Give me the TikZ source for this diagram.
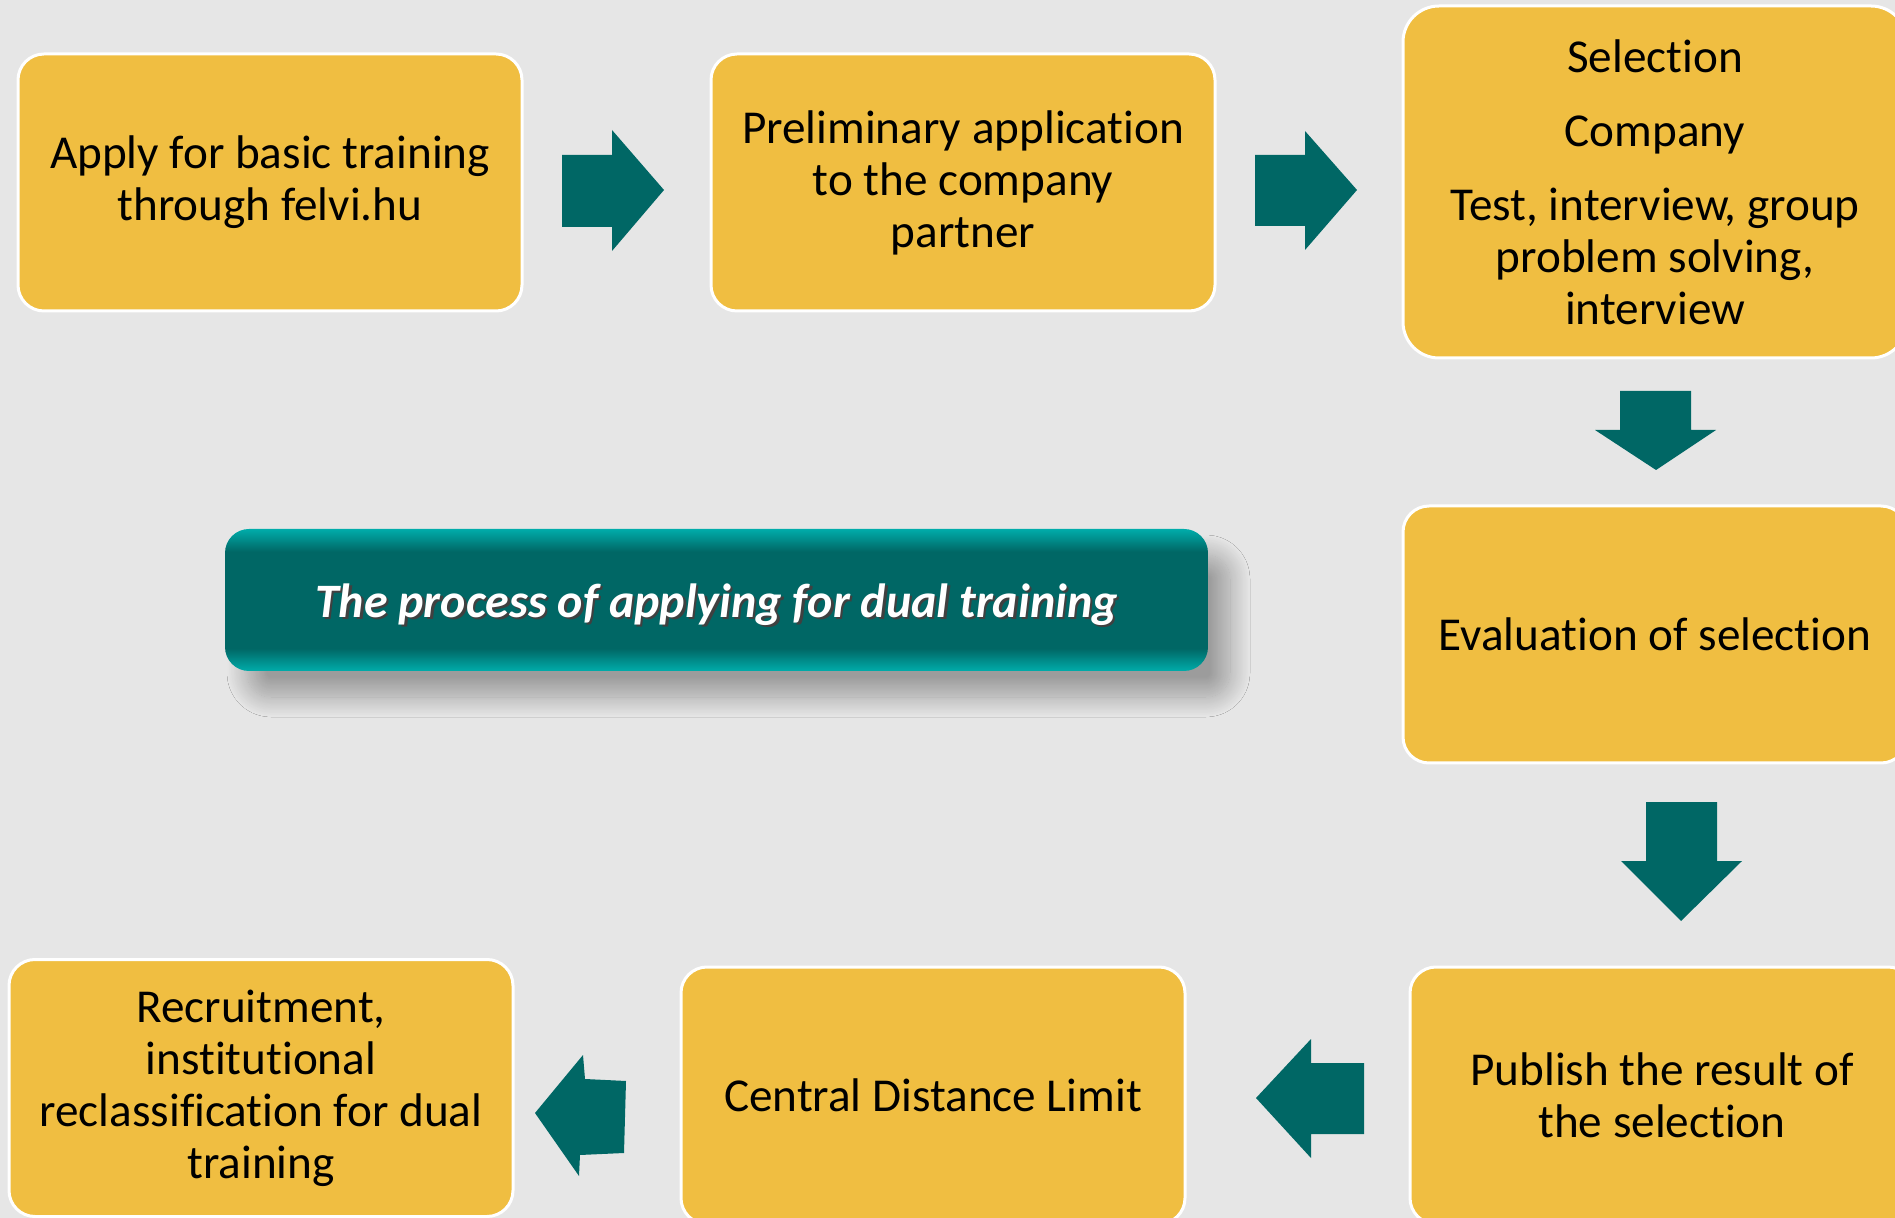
\documentclass[tikz,border=0pt]{standalone}
\usepackage{fontspec}
\setmainfont{Carlito}[Ligatures=NoCommon]
\usetikzlibrary{shadows.blur}

\definecolor{pagegray}{RGB}{230,230,230}
\definecolor{boxyellow}{RGB}{240,190,65}
\definecolor{tealdark}{RGB}{0,103,101}
\definecolor{teallight}{RGB}{0,172,170}

% vertical glow at the top and bottom edges of the title bar
\pgfdeclareverticalshading{tealbar}{100bp}{%
  color(0bp)=(teallight); color(25bp)=(teallight); color(33bp)=(tealdark);
  color(67bp)=(tealdark); color(75bp)=(teallight); color(100bp)=(teallight)}

\tikzset{
  stepbox/.style={rectangle, rounded corners=13pt, fill=boxyellow, draw=white,
    line width=1.5pt, minimum width=252pt, minimum height=128.5pt,
    inner sep=0pt, align=center, font=\fontsize{23.6}{26}\selectfont},
  blockarrow/.style={fill=tealdark, draw=none},
  titlebar/.style={rectangle, rounded corners=12pt, shade, shading=tealbar,
    minimum width=491.5pt, minimum height=71pt, inner sep=0pt,
    blur shadow={shadow xshift=11pt, shadow yshift=-13pt,
      shadow blur radius=10pt, shadow blur steps=25, shadow opacity=32},
    font=\fontsize{24}{28}\selectfont\bfseries\itshape, text=white}
}

\newcommand{\shadowtext}[1]{%
  \rlap{\hspace{1.2pt}\raisebox{-1.2pt}{\textcolor{black!75}{#1}}}#1}

\begin{document}
\begin{tikzpicture}[x=0.5pt, y=-0.5pt]
  \useasboundingbox (0,0) rectangle (1895,1218);
  \clip (0,0) rectangle (1895,1218);
  \fill[pagegray] (0,0) rectangle (1895,1218);

  % process steps
  \node[stepbox] (apply) at (270,182.5) {Apply for basic training\\through felvi.hu};
  \node[stepbox] (prelim) at (963,182.5) {Preliminary application\\to the company\\partner};
  \node[stepbox, rounded corners=18pt, minimum height=176pt] (select) at (1655,182)
    {Selection\\[11pt]Company\\[11pt]Test, interview, group\\problem solving,\\interview};
  \node[stepbox] (eval) at (1655,634.5) {Evaluation of selection};
  \node[stepbox] (publish) at (1662,1095.5) {Publish the result of\\the selection};
  \node[stepbox] (central) at (933,1095.5) {Central Distance Limit};
  \node[stepbox] (recruit) at (261,1088) {Recruitment,\\institutional\\reclassification for dual\\training};

  % title bar
  \node[titlebar] (title) at (716.5,600)
    {\raisebox{-3pt}[\height][\depth]{\shadowtext{The process of applying for dual training}}};

  % block arrows between the steps
  \fill[blockarrow] (562,155) -- (612,155) -- (612,130) -- (664,190)
    -- (612,251) -- (612,227) -- (562,227) -- cycle;
  \fill[blockarrow] (1255,155) -- (1305,155) -- (1305,131) -- (1357,190)
    -- (1305,250) -- (1305,226) -- (1255,226) -- cycle;
  \fill[blockarrow] (1620,391) -- (1691,391) -- (1691,430) -- (1716,430)
    -- (1656,470) -- (1595,430) -- (1620,430) -- cycle;
  \fill[blockarrow] (1646,802) -- (1717,802) -- (1717,861) -- (1742,861)
    -- (1681,921) -- (1621,861) -- (1646,861) -- cycle;
  \fill[blockarrow] (1364,1063) -- (1364,1134) -- (1311,1134) -- (1311,1158)
    -- (1256,1098) -- (1311,1039) -- (1311,1063) -- cycle;
  \fill[blockarrow] (626,1081) -- (624,1153) -- (580,1155) -- (579,1176)
    -- (535,1113) -- (583,1055) -- (585,1079) -- cycle;
\end{tikzpicture}
\end{document}
